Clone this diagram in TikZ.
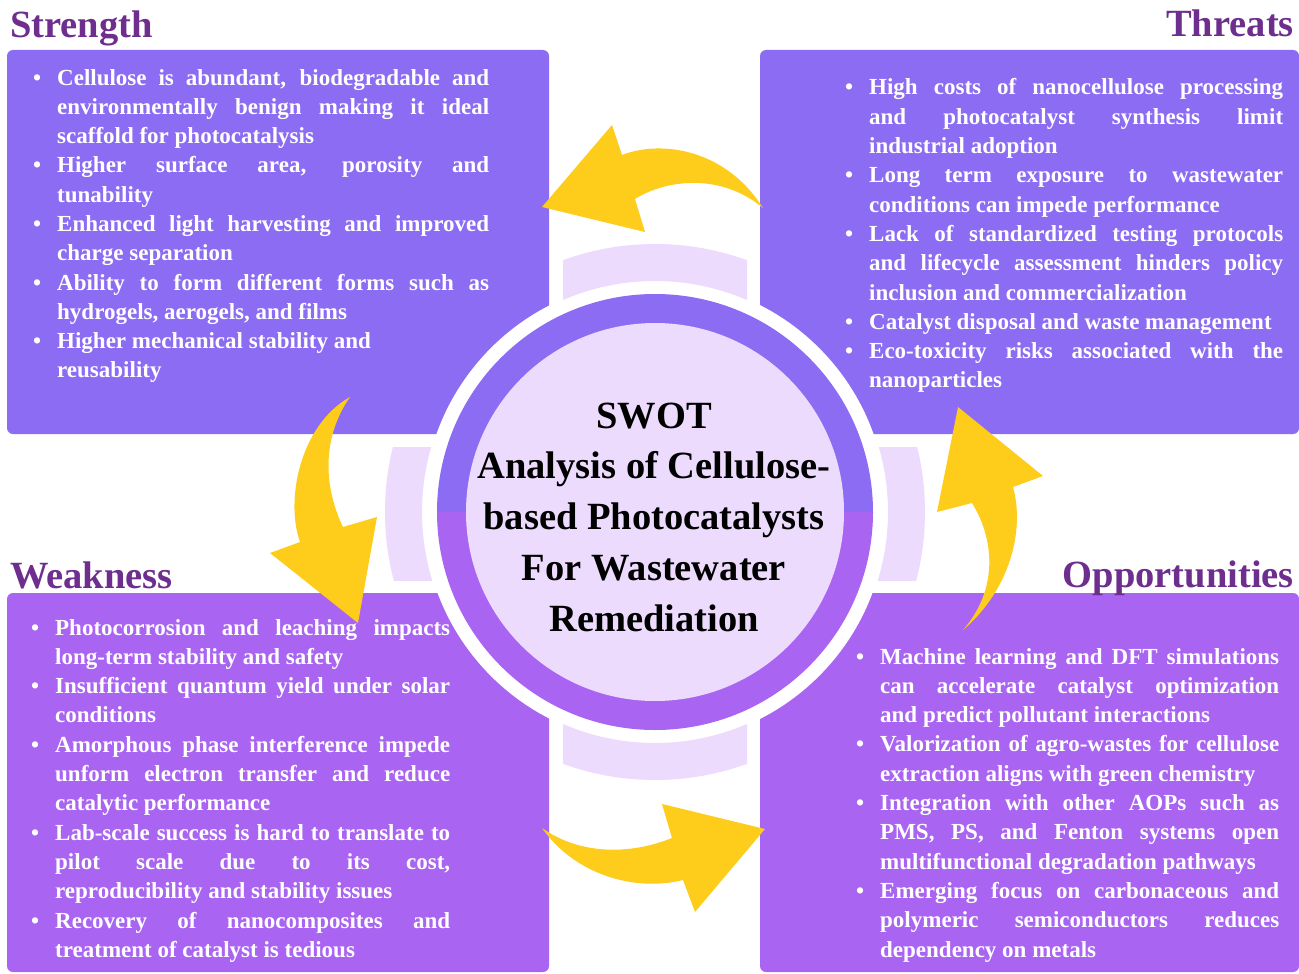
\documentclass[tikz,border=0pt]{standalone}
\usepackage{fontspec}
\setmainfont{Liberation Serif}
\definecolor{topc}{HTML}{8B6CF2}
\definecolor{botc}{HTML}{A964F2}
\definecolor{lightc}{HTML}{ECDBFC}
\definecolor{arrowc}{HTML}{FECC1A}
\definecolor{titlec}{HTML}{6E2E8E}
\newlength{\linew}
\newcommand{\BJ}[1]{\hbox to \linew{\llap{\textbullet\hskip 16pt}#1}}
\newcommand{\JJ}[1]{\hbox to \linew{#1}}
\newcommand{\BL}[1]{\hbox to \linew{\llap{\textbullet\hskip 16pt}#1\hfil}}
\newcommand{\LL}[1]{\hbox to \linew{#1\hfil}}
\newcommand{\bodyfont}{\fontsize{23}{29.3}\selectfont\bfseries}
\tikzset{
  boxtop/.style={fill=topc, rounded corners=6pt},
  boxbot/.style={fill=botc, rounded corners=6pt},
  tabshape/.style={fill=lightc, even odd rule},
  yarrow/.style={fill=arrowc},
  body/.style={anchor=base west, inner sep=0pt, text=white},
  titletext/.style={inner sep=0pt, text=titlec, font=\fontsize{38.5}{40}\selectfont\bfseries},
}
\begin{document}
\begin{tikzpicture}[x=1pt,y=-1pt]
\useasboundingbox (0,0) rectangle (1299,974);
\fill[white] (0,0) rectangle (1299,974);
% boxes
\fill[boxtop] (7,50) rectangle (549,434);
\fill[boxtop] (760,50) rectangle (1299,434);
\fill[boxbot] (7,593) rectangle (549,972);
\fill[boxbot] (760,593) rectangle (1299,972);
% white band round the centre
\fill[white] (655,512) circle (232pt);
% light tabs
\begin{scope}
  \clip (563,0) rectangle (747,974);
  \fill[tabshape] (655,512) circle (268pt) (655,512) circle (231pt);
\end{scope}
\begin{scope}
  \clip (0,447) rectangle (1299,580);
  \fill[tabshape] (655,512) circle (270pt) (655,512) circle (233pt);
\end{scope}
% ring
\begin{scope}
  \clip (0,0) rectangle (1299,512);
  \fill[topc] (655,512) circle (218pt);
\end{scope}
\begin{scope}
  \clip (0,512) rectangle (1299,974);
  \fill[botc] (655,512) circle (218pt);
\end{scope}
\fill[lightc] (655,512) circle (189pt);
% arrows
\fill[yarrow] (763,208) .. controls (725,148) and (660,140) .. (622,155) -- (612,125) -- (542,207) -- (645,232) -- (635,199) .. controls (665,180) and (720,172) .. (763,208) -- cycle;
\fill[yarrow] (350,397) .. controls (300,425) and (285,500) .. (300,542) -- (270,553) -- (358,623) -- (377,517) -- (343,527) .. controls (325,490) and (320,440) .. (350,397) -- cycle;
\fill[yarrow] (542,828) .. controls (575,875) and (635,892) .. (683,880) -- (695,912) -- (765,829) -- (662,804) -- (672,838) .. controls (630,855) and (580,855) .. (542,828) -- cycle;
\fill[yarrow] (963,630) .. controls (1010,590) and (1025,530) .. (1013,487) -- (1043,476) -- (958,407) -- (937,512) -- (972,503) .. controls (995,540) and (998,590) .. (963,630) -- cycle;
% titles
\node[titletext, anchor=base west] (tS) at (10,38) {Strength};
\node[titletext, anchor=base east] (tT) at (1294,37) {Threats};
\node[titletext, anchor=base west] (tW) at (10,588) {Weakness};
\node[titletext, anchor=base east] (tO) at (1294,587) {Opportunities};
% Strength text
\node[body] (S) at (57,85) {\setlength{\linew}{432pt}\parbox[t]{\linew}{\bodyfont
\BJ{Cellulose is abundant, biodegradable and}
\JJ{environmentally benign making it ideal}
\LL{scaffold for photocatalysis}
\BJ{Higher surface area, porosity and}
\LL{tunability}
\BJ{Enhanced light harvesting and improved}
\LL{charge separation}
\BJ{Ability to form different forms such as}
\LL{hydrogels, aerogels, and films}
\BL{Higher mechanical stability and}
\LL{reusability}}};
% Threats text
\node[body] (T) at (869,95) {\setlength{\linew}{414pt}\parbox[t]{\linew}{\bodyfont
\BJ{High costs of nanocellulose processing}
\JJ{and photocatalyst synthesis limit}
\LL{industrial adoption}
\BJ{Long term exposure to wastewater}
\LL{conditions can impede performance}
\BJ{Lack of standardized testing protocols}
\JJ{and lifecycle assessment hinders policy}
\LL{inclusion and commercialization}
\BL{Catalyst disposal and waste management}
\BJ{Eco-toxicity risks associated with the}
\LL{nanoparticles}}};
% Weakness text
\node[body] (W) at (55,635) {\setlength{\linew}{395pt}\parbox[t]{\linew}{\bodyfont
\BJ{Photocorrosion and leaching impacts}
\LL{long-term stability and safety}
\BJ{Insufficient quantum yield under solar}
\LL{conditions}
\BJ{Amorphous phase interference impede}
\JJ{unform electron transfer and reduce}
\LL{catalytic performance}
\BJ{Lab-scale success is hard to translate to}
\JJ{pilot scale due to its cost,}
\LL{reproducibility and stability issues}
\BJ{Recovery of nanocomposites and}
\LL{treatment of catalyst is tedious}}};
% Opportunities text
\node[body] (O) at (880,664) {\setlength{\linew}{399pt}\parbox[t]{\linew}{\bodyfont
\BJ{Machine learning and DFT simulations}
\JJ{can accelerate catalyst optimization}
\LL{and predict pollutant interactions}
\BJ{Valorization of agro-wastes for cellulose}
\LL{extraction aligns with green chemistry}
\BJ{Integration with other AOPs such as}
\JJ{PMS, PS, and Fenton systems open}
\LL{multifunctional degradation pathways}
\BJ{Emerging focus on carbonaceous and}
\JJ{polymeric semiconductors reduces}
\LL{dependency on metals}}};
% centre text
\node[anchor=base, inner sep=0pt] (C) at (654,428) {\parbox[t]{440pt}{\centering\fontsize{38.5}{50.75}\selectfont\bfseries
SWOT\\Analysis of Cellulose-\\based Photocatalysts\\For Wastewater\\Remediation}};
\end{tikzpicture}
\end{document}
